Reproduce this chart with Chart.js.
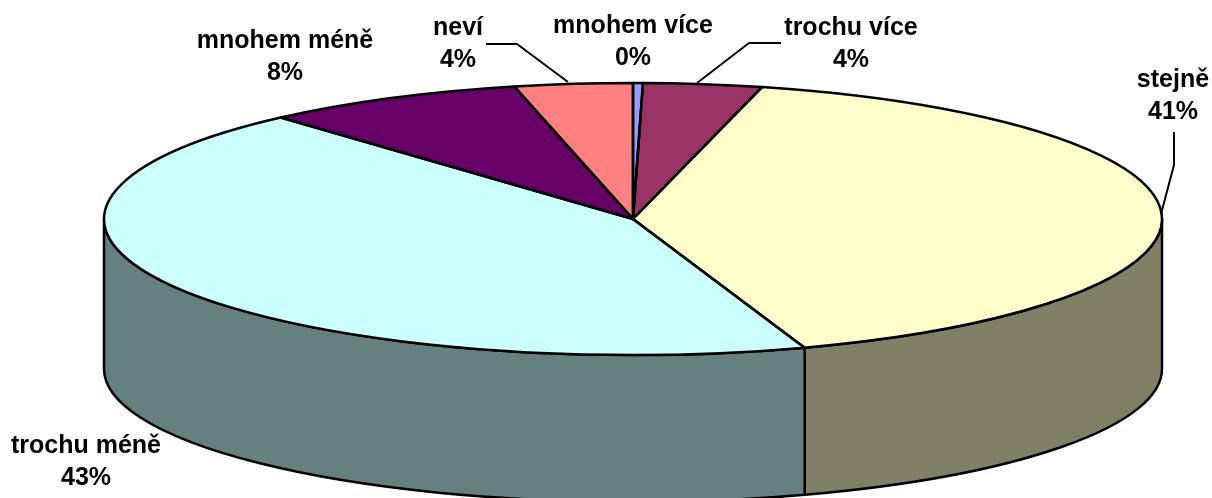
<!DOCTYPE html>
<html>
<head>
<meta charset="utf-8">
<title>Pie</title>
<script src="https://cdn.jsdelivr.net/npm/chart.js@4"></script>
<style>
body { margin: 0; background: #fff; }
canvas { display: block; }
</style>
</head>
<body>
<canvas id="pie" width="1212" height="498"></canvas>
<script>
const categories = ["mnohem více", "trochu více", "stejně", "trochu méně", "mnohem méně", "neví"];
const shares = [0.3, 3.62, 40.82, 43.66, 8.0, 3.6];
const percentLabels = ["0%", "4%", "41%", "43%", "8%", "4%"];
const topColors = ["#9999FF", "#993366", "#FFFFCC", "#CCFFFF", "#660066", "#FF8080"];
const sideColors = ["#4D4D80", "#4D1A33", "#808066", "#668080", "#330033", "#804040"];

// where the flat pie ends up on the page
const cx = 633, cy = 219, rx = 529, ry = 136;
const floorY = 369, floorRy = 133;

// label centres and leader lines, same order as categories
const labelPos = [[633, 26], [851, 28], [1173, 80], [86, 446], [285, 41], [458, 28]];
const leaders = [
    null,
    [[781, 43], [749, 43], [697, 83]],
    [[1174, 132], [1174, 165], [1161, 214]],
    null,
    null,
    [[486, 44], [517, 44], [568, 82]]
];

const squashPie = {
    id: "squashPie",
    beforeDatasetsDraw(chart) {
        const ctx = chart.ctx;
        const arcs = chart.getDatasetMeta(0).data;
        ctx.save();
        ctx.lineWidth = 2.5;
        ctx.strokeStyle = "#000";
        ctx.lineJoin = "round";
        // side wall, only the front half of the rim shows
        arcs.forEach((arc, i) => {
            const from = Math.max(arc.startAngle, 0);
            const to = Math.min(arc.endAngle, Math.PI);
            if (to <= from) return;
            ctx.beginPath();
            ctx.ellipse(cx, cy, rx, ry, 0, from, to);
            ctx.ellipse(cx, floorY, rx, floorRy, 0, to, from, true);
            ctx.closePath();
            ctx.fillStyle = sideColors[i];
            ctx.fill();
            ctx.stroke();
        });
        ctx.restore();

        // library draws the slices, squeezed onto the ellipse
        const first = arcs[0];
        const r = first.outerRadius;
        ctx.save();
        ctx.translate(cx, cy);
        ctx.scale(rx / r, ry / r);
        ctx.translate(-first.x, -first.y);
    },
    afterDatasetsDraw(chart) {
        const ctx = chart.ctx;
        ctx.restore();
        const arcs = chart.getDatasetMeta(0).data;

        ctx.save();
        ctx.lineWidth = 2.5;
        ctx.strokeStyle = "#000";
        ctx.lineJoin = "round";
        arcs.forEach(arc => {
            ctx.beginPath();
            ctx.moveTo(cx, cy);
            ctx.ellipse(cx, cy, rx, ry, 0, arc.startAngle, arc.endAngle);
            ctx.closePath();
            ctx.stroke();
        });

        ctx.lineWidth = 2;
        leaders.forEach(pts => {
            if (!pts) return;
            ctx.beginPath();
            pts.forEach((p, j) => j ? ctx.lineTo(p[0], p[1]) : ctx.moveTo(p[0], p[1]));
            ctx.stroke();
        });

        ctx.fillStyle = "#000";
        ctx.font = "bold 25px 'Liberation Sans'";
        ctx.textAlign = "center";
        ctx.textBaseline = "middle";
        categories.forEach((name, i) => {
            const p = labelPos[i];
            ctx.fillText(name, p[0], p[1]);
            ctx.fillText(percentLabels[i], p[0], p[1] + 32);
        });
        ctx.restore();
    }
};

new Chart(document.getElementById("pie"), {
    type: "pie",
    data: {
        labels: categories,
        datasets: [{
            data: shares,
            backgroundColor: topColors,
            borderWidth: 0
        }]
    },
    options: {
        responsive: false,
        animation: false,
        events: [],
        layout: { padding: 0 },
        plugins: {
            legend: { display: false },
            tooltip: { enabled: false }
        }
    },
    plugins: [squashPie]
});
</script>
</body>
</html>
